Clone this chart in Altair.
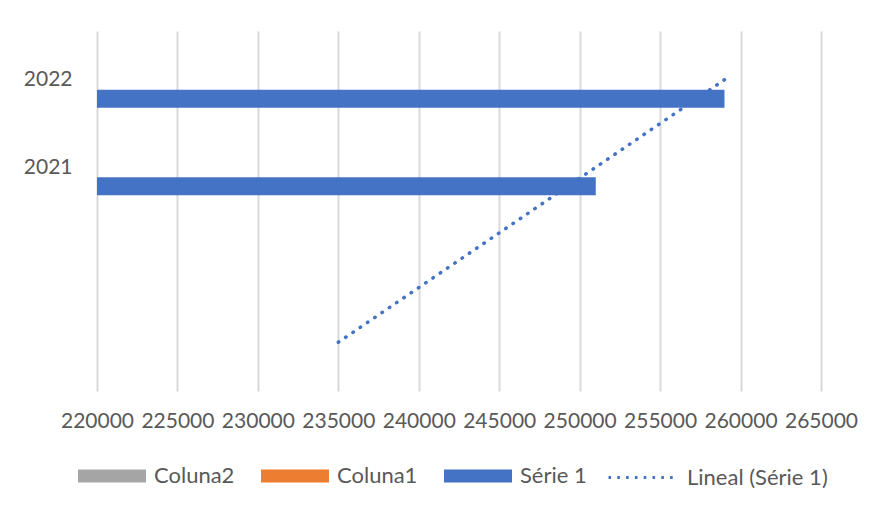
import altair as alt
import pandas as pd

# ---- data ----
category_pos = [1, 2, 3, 4]
category_labels = ["", "", "2021", "2022"]
years = ["2021", "2022"]
year_pos = [3, 4]
serie1 = [251000, 259000]
trend_pos = [1, 4]
trend_values = [235000, 259000]
bar_series = ["Coluna2", "Coluna1", "Série 1"]
bar_colors = ["#A5A5A5", "#ED7D31", "#4472C4"]
trend_series = ["Lineal (Série 1)"]
trend_colors = ["#4472C4"]
x_ticks = [220000, 225000, 230000, 235000, 240000, 245000, 250000, 255000, 260000, 265000]

bars_df = pd.DataFrame({"pos": year_pos, "value": serie1, "year": years,
                        "series": ["Série 1"] * len(years)})
trend_df = pd.DataFrame({"pos": trend_pos, "value": trend_values,
                         "series": trend_series * len(trend_pos)})

FONT = "Lato"
TXT = "#595959"

label_expr = "[" + ", ".join("'%s'" % l for l in category_labels) + "][datum.value - 1]"

x_scale = alt.Scale(domain=[x_ticks[0], x_ticks[-1]], nice=False, zero=False)
y_scale = alt.Scale(domain=[category_pos[0] - 0.5, category_pos[-1] + 0.5], nice=False, zero=False)

x_axis = alt.Axis(values=x_ticks, format="d", title=None, grid=True, gridColor="#D9D9D9",
                  gridWidth=2, domain=False, ticks=False, labelFont=FONT, labelFontSize=21,
                  labelColor=TXT, labelPadding=19, labelFlush=False, labelOverlap=False)
y_axis = alt.Axis(values=year_pos, labelExpr=label_expr, title=None, grid=False, domain=False,
                  ticks=False, labelFont=FONT, labelFontSize=21, labelColor=TXT, labelPadding=25)

bar_legend = alt.Legend(
    title=None, orient="none", direction="horizontal", legendX=-19, legendY=411,
    symbolType="M-1,-0.19H1V0.19H-1Z", symbolSize=4624, symbolStrokeWidth=0,
    labelFont=FONT, labelFontSize=22, labelColor=TXT, labelOffset=8,
    columnPadding=26, labelLimit=400,
)
trend_legend = alt.Legend(
    title=None, orient="none", direction="horizontal", legendX=510, legendY=410,
    symbolType="M-1,0H1", symbolSize=4900, symbolStrokeWidth=3, symbolDash=[2.6, 6.2],
    labelFont=FONT, labelFontSize=22, labelColor=TXT, labelOffset=7, labelLimit=400,
)

bars = alt.Chart(bars_df).mark_bar(size=18, yOffset=19).encode(
    x=alt.X("value:Q", scale=x_scale, axis=x_axis),
    x2=alt.datum(x_ticks[0]),
    y=alt.Y("pos:Q", scale=y_scale, axis=y_axis),
    fill=alt.Fill("series:N", scale=alt.Scale(domain=bar_series, range=bar_colors), legend=bar_legend),
)

trend = alt.Chart(trend_df).mark_line(strokeDash=[0.5, 8.3], strokeCap="round", strokeWidth=3.5).encode(
    x=alt.X("value:Q", scale=x_scale),
    y=alt.Y("pos:Q", scale=y_scale),
    stroke=alt.Stroke("series:N", scale=alt.Scale(domain=trend_series, range=trend_colors),
                      legend=trend_legend),
)

chart = alt.layer(bars, trend).properties(
    width=724, height=360, autosize="none",
    padding={"left": 89, "top": 23, "right": 40, "bottom": 100},
    background="white",
).configure_view(stroke=None)

chart.save("out.html", embed_options={"renderer": "svg", "actions": False})
